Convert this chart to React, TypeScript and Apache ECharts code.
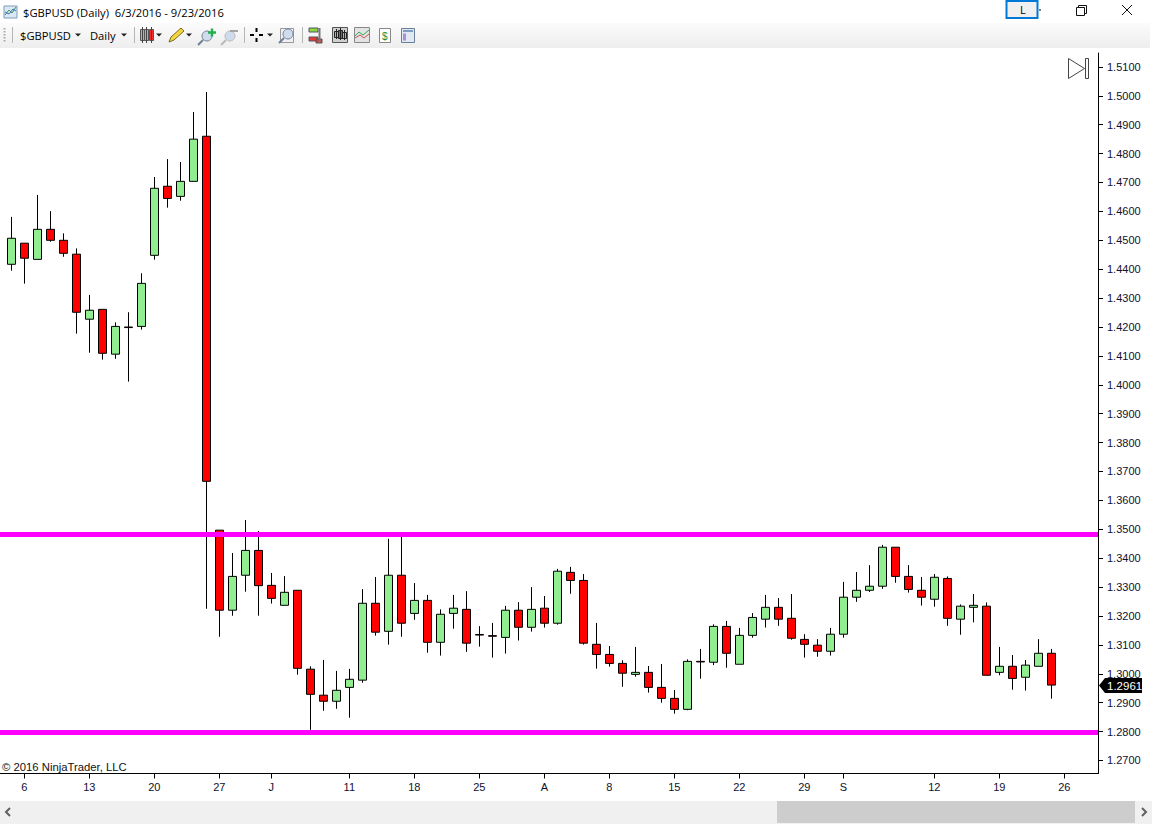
import React, { useEffect, useRef } from "react";
import * as echarts from "echarts";

const openPrices = [
  1.4417, 1.449, 1.4434, 1.4538, 1.45, 1.4452, 1.4227, 1.4261, 1.4106, 1.42, 1.4202, 1.4448, 1.4687, 1.4652, 1.4704, 1.486,
  1.3497, 1.322, 1.3341, 1.3427, 1.3306, 1.3237, 1.3289, 1.3016, 1.2926, 1.2905, 1.2953, 1.2978, 1.3244, 1.3147, 1.3341,
  1.3209, 1.3254, 1.3109, 1.3209, 1.3223, 1.3136, 1.3132, 1.3126, 1.322, 1.3161, 1.3227, 1.3175, 1.3351, 1.3323, 1.3102,
  1.3067, 1.3036, 1.2998, 1.3005, 1.2953, 1.2915, 1.2877, 1.3043, 1.304, 1.3164, 1.3033, 1.3133, 1.3189, 1.323, 1.3192,
  1.3119, 1.3099, 1.3078, 1.3137, 1.3265, 1.3289, 1.3303, 1.3438, 1.3337, 1.3289, 1.3258, 1.333, 1.3189, 1.323, 1.3234,
  1.3005, 1.3026, 1.2988, 1.3026, 1.3071,
];
const closePrices = [
  1.4507, 1.4438, 1.4538, 1.45, 1.4455, 1.4251, 1.4258, 1.4109, 1.4202, 1.4198, 1.4351, 1.468, 1.4645, 1.4704, 1.485, 1.3666,
  1.322, 1.3337, 1.3427, 1.3305, 1.3261, 1.3282, 1.3019, 1.2929, 1.2905, 1.2943, 1.2981, 1.3244, 1.3144, 1.3341, 1.3175,
  1.3254, 1.3109, 1.3206, 1.3227, 1.3106, 1.3134, 1.313, 1.322, 1.3161, 1.3223, 1.3175, 1.3355, 1.3323, 1.3106, 1.3067,
  1.3036, 1.3002, 1.3005, 1.2953, 1.2915, 1.2877, 1.3043, 1.3041, 1.3164, 1.3071, 1.3133, 1.3195, 1.323, 1.3189, 1.3123,
  1.3102, 1.3078, 1.3137, 1.3265, 1.3289, 1.3303, 1.3438, 1.3337, 1.3292, 1.3265, 1.3334, 1.3192, 1.3234, 1.3237, 1.2995,
  1.3026, 1.2984, 1.303, 1.3071, 1.2961,
];
const lowPrices = [
  1.4395, 1.435, 1.4434, 1.4495, 1.4443, 1.4177, 1.4111, 1.4087, 1.409, 1.4011, 1.4191, 1.4433, 1.4613, 1.4637, 1.4704, 1.3225,
  1.3128, 1.3201, 1.3284, 1.3201, 1.3243, 1.3237, 1.2997, 1.2806, 1.2872, 1.2879, 1.2848, 1.2969, 1.3132, 1.3101, 1.3128,
  1.3187, 1.3073, 1.3063, 1.3156, 1.3076, 1.3094, 1.3056, 1.307, 1.3115, 1.3146, 1.316, 1.317, 1.3277, 1.3101, 1.3018,
  1.3025, 1.2955, 1.299, 1.2935, 1.29, 1.2862, 1.2874, 1.2983, 1.303, 1.3021, 1.3033, 1.3125, 1.316, 1.3166, 1.3118,
  1.3056, 1.3059, 1.3063, 1.3125, 1.3249, 1.3283, 1.3294, 1.3315, 1.3281, 1.3236, 1.3232, 1.3166, 1.3135, 1.3178, 1.2995,
  1.2995, 1.2945, 1.2942, 1.3026, 1.2914,
];
const highPrices = [
  1.4581, 1.449, 1.4657, 1.4601, 1.4524, 1.4472, 1.4311, 1.4261, 1.4216, 1.4251, 1.4386, 1.4719, 1.4781, 1.4771, 1.4944, 1.5013,
  1.3497, 1.3418, 1.3532, 1.3494, 1.3349, 1.3338, 1.3289, 1.3026, 1.3048, 1.301, 1.3017, 1.3293, 1.3335, 1.3467, 1.348,
  1.3314, 1.3273, 1.3223, 1.3273, 1.3286, 1.3165, 1.3176, 1.3235, 1.3248, 1.33, 1.3269, 1.3363, 1.337, 1.3345, 1.3176,
  1.3096, 1.3047, 1.3093, 1.3027, 1.3034, 1.2944, 1.305, 1.3086, 1.3171, 1.3183, 1.3159, 1.321, 1.3273, 1.3262, 1.3276,
  1.3137, 1.312, 1.3159, 1.3318, 1.3352, 1.3376, 1.3446, 1.3438, 1.3376, 1.3335, 1.3345, 1.3337, 1.324, 1.3276, 1.3247,
  1.3093, 1.3065, 1.3048, 1.312, 1.3086,
];

const xTickIndexes = [1, 6, 11, 16, 20, 26, 31, 36, 41, 46, 51, 56, 61, 64, 71, 76, 81];
const xTickLabels = ["6", "13", "20", "27", "J", "11", "18", "25", "A", "8", "15", "22", "29", "S", "12", "19", "26"];
const yTickValues = [
  1.27, 1.28, 1.29, 1.3, 1.31, 1.32, 1.33, 1.34, 1.35, 1.36, 1.37, 1.38, 1.39, 1.4, 1.41, 1.42, 1.43, 1.44, 1.45, 1.46, 1.47,
  1.48, 1.49, 1.5, 1.51,
];
const levelPrices = [1.3483, 1.2797];
const lastPriceLabel = "1.2961";
const titleText = "$GBPUSD (Daily)  6/3/2016 - 9/23/2016";
const UI_FONT = '"Open Sans", "Noto Sans", sans-serif';
const AXIS_FONT = '"Liberation Sans", Arial, sans-serif';

const R = (x: number, y: number, w: number, h: number, fill: string, stroke?: string, lw = 1, z = 10) => ({
  type: "rect",
  z,
  silent: true,
  shape: { x, y, width: w, height: h },
  style: { fill, stroke: stroke || undefined, lineWidth: lw },
});
const L = (x1: number, y1: number, x2: number, y2: number, stroke: string, lw = 1, z = 11) => ({
  type: "line",
  z,
  silent: true,
  shape: { x1, y1, x2, y2 },
  style: { stroke, lineWidth: lw },
});
const P = (points: number[][], fill: string, stroke?: string, lw = 1, z = 11) => ({
  type: "polygon",
  z,
  silent: true,
  shape: { points },
  style: { fill, stroke: stroke || undefined, lineWidth: lw },
});
const T = (text: string, x: number, y: number, size: number, fill = "#000", family = UI_FONT, z = 12) => ({
  type: "text",
  z,
  silent: true,
  x,
  y,
  style: { text, fontSize: size, fontFamily: family, fill, textVerticalAlign: "middle", verticalAlign: "middle" },
});
const C = (cx: number, cy: number, r: number, fill: string, stroke?: string, lw = 1) => ({
  type: "circle",
  z: 11,
  silent: true,
  shape: { cx, cy, r },
  style: { fill, stroke: stroke || undefined, lineWidth: lw },
});
const caret = (x: number, y = 35) => P([[x, y - 1.5], [x + 6, y - 1.5], [x + 3, y + 1.5]], "#222");
const candleIcon = (x: number, y: number, h: number, fill: string) => [
  L(x + 2.5, y - 2, x + 2.5, y + h + 2, "#222"),
  R(x + 0.5, y + 0.5, 4, h, fill, "#222"),
];
const magnifier = (x: number, y: number, color: string) => [
  C(x + 9, y + 6, 5, "#cfdcee", color),
  L(x + 5, y + 10, x, y + 15, color, 2),
];

const chromeElements = () => [
  // window title
  R(4, 6, 13, 12, "#dbe7f5", "#7f9db9"),
  { type: "polyline", z: 11, silent: true, shape: { points: [[5, 15], [9, 10], [12, 13], [16, 7]] }, style: { stroke: "#2f9e44", fill: "none", lineWidth: 1 } },
  { type: "polyline", z: 11, silent: true, shape: { points: [[5, 12], [9, 14], [13, 9], [16, 11]] }, style: { stroke: "#3b6fc4", fill: "none", lineWidth: 1 } },
  T(titleText, 23, 12, 11.2),
  R(1006.5, 1, 31, 17, "#f0f0f0", "#0078d7", 2),
  T("L", 1020, 9.5, 11),
  L(1039, 10, 1041, 10, "#000"),
  R(1078.5, 5.5, 8, 8, "none", "#111"),
  R(1076.5, 7.5, 8, 8, "#fff", "#111"),
  L(1122, 5, 1132, 15, "#111"),
  L(1132, 5, 1122, 15, "#111"),
  // toolbar
  {
    type: "rect",
    z: 9,
    silent: true,
    shape: { x: 0, y: 23, width: 1150, height: 25 },
    style: {
      fill: new echarts.graphic.LinearGradient(0, 0, 0, 1, [
        { offset: 0, color: "#fbfbfb" },
        { offset: 1, color: "#eeeeee" },
      ]),
    },
  },
  ...[28, 31, 34, 37, 40].map((y) => R(3.5, y, 2, 1.5, "#aaa")),
  ...[12.5, 134.5, 244.5, 302.5].map((x) => L(x, 27, x, 43, "#b5b5b5")),
  T("$GBPUSD", 20, 35, 11.2),
  caret(75),
  T("Daily", 90, 35, 11.2),
  caret(121),
  ...[140, 144, 149].flatMap((x, i) => [
    L(x + 2.5, 27, x + 2.5, 43, "#444"),
    R(x + 0.5, 29.5, 4, 11, i === 2 ? "#f03030" : "#80e040", "#555"),
  ]),
  caret(156),
  P([[169, 42], [171, 37], [181, 28], [184, 31], [174, 40]], "#f5d442", "#7a6a20"),
  caret(186),
  ...magnifier(198, 30, "#6f7f95"),
  L(212, 28.5, 212, 36.5, "#22b14c", 2.5),
  L(208, 32.5, 216, 32.5, "#22b14c", 2.5),
  ...magnifier(221, 30, "#b9b9b9"),
  L(230, 31, 238, 31, "#a5a5a5", 2),
  L(250, 35, 254, 35, "#000", 2),
  L(259, 35, 263, 35, "#000", 2),
  L(256.5, 28, 256.5, 32, "#000", 2),
  L(256.5, 38, 256.5, 42, "#000", 2),
  caret(267),
  R(280.5, 28.5, 13, 14, "#eef2f7", "#9a9a9a"),
  ...magnifier(279, 28, "#6f7f95"),
  R(309, 28, 9, 4, "#8bd840", "#556"),
  R(309, 37, 9, 4, "#e53935", "#556"),
  L(319.5, 28, 319.5, 43, "#777", 2),
  R(316, 39, 6, 4, "#e53935", "#555"),
  R(332.5, 27.5, 15, 15, "#cfcfcf", "#555"),
  ...candleIcon(334, 31, 6, "#8bd840"),
  ...candleIcon(338, 30, 8, "#e53935"),
  ...candleIcon(342, 32, 6, "#8bd840"),
  R(354.5, 27.5, 15, 15, "#e3e3e3", "#888"),
  { type: "polyline", z: 11, silent: true, shape: { points: [[355, 36], [359, 32], [363, 35], [369, 30]] }, style: { stroke: "#2faa55", fill: "none", lineWidth: 1 } },
  { type: "polyline", z: 11, silent: true, shape: { points: [[355, 38], [360, 35], [364, 38], [369, 34]] }, style: { stroke: "#d05050", fill: "none", lineWidth: 1 } },
  R(379.5, 28.5, 11, 14, "#ffffff", "#888"),
  T("$", 382, 36, 10, "#1a8f3a", AXIS_FONT),
  R(401.5, 28.5, 13, 14, "#dfe8f3", "#6a7f99"),
  R(403, 30, 10, 2, "#7d9cc0"),
  R(403, 33.5, 3, 7, "#b48bd8"),
  // scroll-to-end button
  P([[1068.5, 58.5], [1068.5, 78.5], [1084.5, 68.5]], "#fff", "#444"),
  R(1085.5, 58.5, 3, 20, "#fff", "#444"),
  // copyright
  T("\u00a9 2016 NinjaTrader, LLC", 2, 767, 11.3, "#111", AXIS_FONT),
  // current price flag
  P([[1099, 685.5], [1105, 678], [1142, 678], [1142, 693], [1105, 693]], "#000"),
  T(lastPriceLabel, 1107, 685.5, 11.5, "#fff", AXIS_FONT),
  // scrollbar
  R(0, 801, 1152, 23, "#f0f0f0"),
  R(777, 801, 358, 22, "#cdcdcd"),
  { type: "polyline", z: 11, silent: true, shape: { points: [[10, 808], [6, 812], [10, 816]] }, style: { stroke: "#606060", fill: "none", lineWidth: 2 } },
  { type: "polyline", z: 11, silent: true, shape: { points: [[1142, 808], [1146, 812], [1142, 816]] }, style: { stroke: "#606060", fill: "none", lineWidth: 2 } },
];

export default function App() {
  const ref = useRef<HTMLDivElement>(null);
  useEffect(() => {
    document.body.style.margin = "0";
    const chart = echarts.init(ref.current!, undefined, { renderer: "svg" });
    chart.setOption({
      animation: false,
      backgroundColor: "#ffffff",
      grid: { left: 0, top: 53, width: 1098, height: 720.5, containLabel: false },
      xAxis: {
        type: "value",
        min: -0.869,
        max: 83.59,
        splitLine: { show: false },
        axisLine: { show: true, onZero: false, lineStyle: { color: "#000", width: 1 } },
        axisTick: { show: true, length: 5, customValues: xTickIndexes, lineStyle: { color: "#000" } },
        axisLabel: {
          customValues: xTickIndexes,
          color: "#101030",
          fontSize: 11,
          fontFamily: AXIS_FONT,
          margin: 8,
          formatter: (v: number) => xTickLabels[xTickIndexes.indexOf(v)] ?? "",
        },
      },
      yAxis: {
        type: "value",
        position: "right",
        min: 1.2655,
        max: 1.51481,
        splitLine: { show: false },
        axisLine: { show: true, onZero: false, lineStyle: { color: "#000", width: 1 } },
        axisTick: { show: true, length: 5, customValues: yTickValues, lineStyle: { color: "#000" } },
        axisLabel: {
          customValues: yTickValues,
          color: "#101030",
          fontSize: 11,
          fontFamily: AXIS_FONT,
          margin: 9,
          padding: [3, 0, 0, 0],
          formatter: (v: number) => v.toFixed(4),
        },
      },
      series: [
        {
          type: "candlestick",
          barWidth: 8,
          clip: false,
          encode: { x: 0, y: [1, 2, 3, 4] },
          itemStyle: {
            color: "#90EE90",
            color0: "#FF0000",
            borderColor: "#000000",
            borderColor0: "#000000",
            borderColorDoji: "#000000",
            borderWidth: 1,
          },
          data: openPrices.map((o, i) => [i, o, closePrices[i], lowPrices[i], highPrices[i]]),
          markLine: {
            silent: true,
            symbol: "none",
            animation: false,
            precision: 4,
            label: { show: false },
            lineStyle: { color: "#FF00FF", width: 5, type: "solid", opacity: 1 },
            emphasis: { disabled: true },
            data: levelPrices.map((p) => ({ yAxis: p })),
          },
        },
      ],
      graphic: { elements: chromeElements() },
    });
    return () => chart.dispose();
  }, []);
  return <div ref={ref} style={{ position: "absolute", left: 0, top: 0, width: 1152, height: 824 }} />;
}
